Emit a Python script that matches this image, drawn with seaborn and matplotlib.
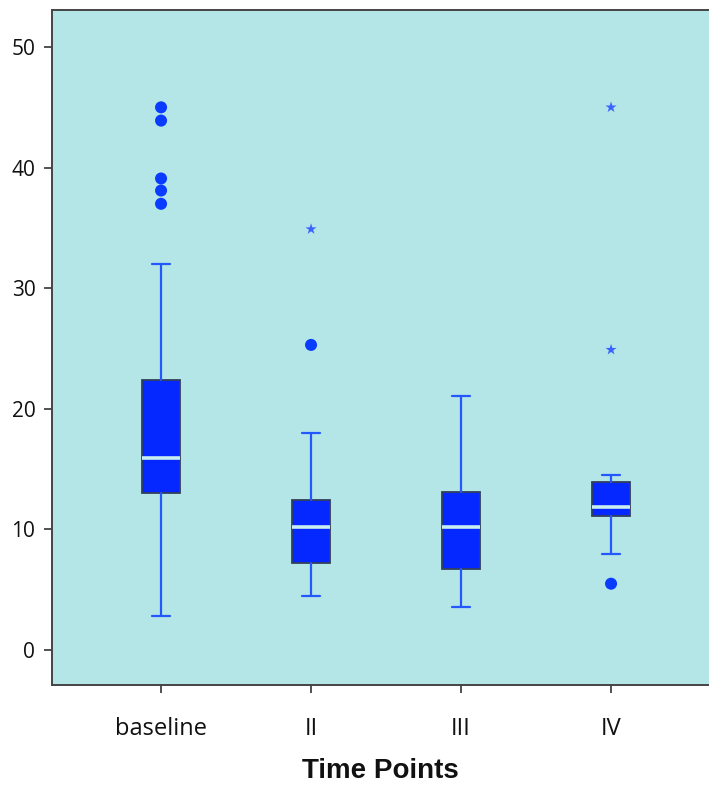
import matplotlib
matplotlib.use("Agg")
import matplotlib.pyplot as plt
import numpy as np
import pandas as pd
import seaborn as sns

# ---------------------------------------------------------------------------
# Data
# ---------------------------------------------------------------------------
groups   = ["baseline", "II", "III", "IV"]
whis_lo  = [2.8, 4.5, 3.6, 8.0]
q1       = [13.0, 7.2, 6.7, 11.1]
medians  = [15.9, 10.2, 10.2, 11.9]
q3       = [22.4, 12.4, 13.1, 13.9]
whis_hi  = [32.0, 18.0, 21.1, 14.5]

# outliers (SPSS style: circles = outliers, stars = extreme values)
out_group = ["baseline", "baseline", "baseline", "baseline", "baseline",
             "II", "II", "IV", "IV", "IV"]
out_value = [45.0, 43.9, 39.1, 38.1, 37.0,
             34.9, 25.3, 45.0, 24.9, 5.5]
out_kind  = ["outlier", "outlier", "outlier", "outlier", "outlier",
             "extreme", "outlier", "extreme", "extreme", "outlier"]

BG      = "#b4e5e7"
BOXFILL = "#0428ff"
LINE    = "#2458ff"
EDGE    = "#33415a"

sns.set_theme(style="ticks")
plt.rcParams["font.family"] = ["Open Sans", "DejaVu Sans"]

fig = plt.figure(figsize=(7.09, 7.87), dpi=100)
ax = fig.add_axes([52 / 709, 1 - 685 / 787, 1 - 52 / 709, (685 - 10) / 787])
ax.set_facecolor(BG)

positions = np.arange(len(groups))
stats = [
    {"label": g, "whislo": lo, "q1": a, "med": m, "q3": b, "whishi": hi, "fliers": []}
    for g, lo, a, m, b, hi in zip(groups, whis_lo, q1, medians, q3, whis_hi)
]
ax.bxp(
    stats, positions=positions, widths=0.25, capwidths=0.125,
    patch_artist=True, showfliers=False,
    boxprops=dict(facecolor=BOXFILL, edgecolor=EDGE, linewidth=1.3),
    medianprops=dict(color="#c8eef0", linewidth=2.6),
    whiskerprops=dict(color=LINE, linewidth=1.6),
    capprops=dict(color=LINE, linewidth=1.6),
)

outliers = pd.DataFrame({"group": out_group, "value": out_value, "kind": out_kind})
outliers["x"] = outliers["group"].map({g: i for i, g in enumerate(groups)})
sns.scatterplot(
    data=outliers[outliers["kind"] == "outlier"], x="x", y="value", ax=ax,
    marker="o", s=75, color="#0a3cff", edgecolor="none", legend=False, zorder=4,
)
sns.scatterplot(
    data=outliers[outliers["kind"] == "extreme"], x="x", y="value", ax=ax,
    marker="*", s=70, color="#3a63ff", edgecolor="none", legend=False, zorder=4,
)

ax.set_xlim(-0.727, 3.653)
ax.set_ylim(-2.9, 53.07)
ax.set_yticks([0, 10, 20, 30, 40, 50])
ax.set_xticks(positions)
ax.set_xticklabels(groups)
ax.tick_params(axis="both", direction="out", length=6, width=1.2, color="#333333",
               labelcolor="#111111")
ax.tick_params(axis="x", pad=17, labelsize=17)
ax.tick_params(axis="y", pad=6, labelsize=15)

for side in ["left", "bottom", "top"]:
    ax.spines[side].set_color("#444444")
    ax.spines[side].set_linewidth(1.4)
ax.spines["right"].set_visible(False)

ax.set_xlabel("Time Points", fontsize=20, fontweight="bold", color="#111111",
              family=["Liberation Sans", "DejaVu Sans"], labelpad=12)
ax.set_ylabel("")

fig.savefig("out.png", dpi=100)
